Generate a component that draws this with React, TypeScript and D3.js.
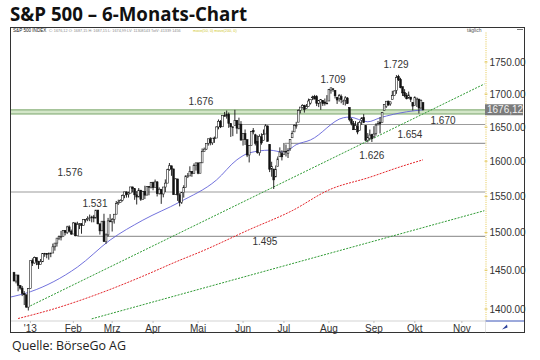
import React from "react";
import * as d3 from "d3";

type Bar = [number, number, number, number]; // open, high, low, close

const dec12: Bar[] = [
  [1446.8, 1447.8, 1435.8, 1435.8], [1435.8, 1443.7, 1432.8, 1443.7], [1443.7, 1443.7, 1422.6, 1430.2],
  [1430.2, 1430.2, 1424.7, 1426.7], [1426.7, 1429.4, 1416.4, 1419.8], [1419.8, 1422.8, 1405.0, 1418.1],
  [1418.1, 1418.1, 1401.6, 1402.4], [1402.4, 1426.7, 1398.1, 1426.2],
];
const jan13: Bar[] = [
  [1426.2, 1462.4, 1426.2, 1462.4], [1462.4, 1465.5, 1455.5, 1459.4], [1459.4, 1467.9, 1458.6, 1466.5],
  [1466.5, 1466.5, 1456.6, 1461.9], [1461.9, 1461.9, 1451.6, 1457.2], [1457.2, 1464.7, 1457.2, 1461.0],
  [1461.0, 1472.3, 1461.0, 1472.1], [1472.1, 1472.8, 1467.6, 1472.1], [1472.1, 1472.1, 1465.7, 1470.7],
  [1470.7, 1473.3, 1463.8, 1472.3], [1472.3, 1473.0, 1467.1, 1472.6], [1472.6, 1485.2, 1472.6, 1480.9],
  [1480.9, 1485.2, 1475.8, 1485.9], [1485.9, 1492.6, 1481.2, 1492.6], [1492.6, 1496.1, 1489.9, 1494.8],
  [1494.8, 1502.3, 1489.5, 1494.8], [1494.8, 1503.3, 1494.8, 1503.0], [1503.0, 1503.2, 1496.3, 1500.2],
  [1500.2, 1509.3, 1498.1, 1507.8], [1507.8, 1509.9, 1500.1, 1502.0], [1502.0, 1504.2, 1496.8, 1498.1],
];
const feb13: Bar[] = [
  [1498.1, 1514.4, 1498.1, 1513.2], [1513.2, 1513.2, 1495.0, 1495.7], [1495.7, 1514.9, 1495.7, 1511.3],
  [1511.3, 1513.0, 1504.8, 1512.1], [1512.1, 1512.9, 1498.5, 1509.4], [1509.4, 1518.3, 1509.4, 1517.9],
  [1517.9, 1518.3, 1513.6, 1518.0], [1518.0, 1522.3, 1515.6, 1519.4], [1519.4, 1524.7, 1515.6, 1520.3],
  [1520.3, 1523.1, 1514.0, 1521.4], [1521.4, 1524.2, 1514.1, 1519.8], [1519.8, 1530.9, 1519.8, 1530.9],
  [1530.9, 1530.9, 1511.4, 1512.0], [1512.0, 1512.0, 1497.3, 1502.4], [1502.4, 1515.6, 1502.4, 1515.6],
  [1515.6, 1525.8, 1487.9, 1487.9], [1487.9, 1498.9, 1485.0, 1496.9], [1496.9, 1520.1, 1494.9, 1516.0],
  [1516.0, 1525.3, 1514.5, 1514.7],
];
const mar13: Bar[] = [
  [1514.7, 1520.0, 1501.5, 1518.2], [1518.2, 1525.3, 1512.3, 1525.2], [1525.2, 1543.5, 1525.2, 1539.8],
  [1539.8, 1545.3, 1538.1, 1541.5], [1541.5, 1545.8, 1541.5, 1544.3], [1544.3, 1552.5, 1542.9, 1551.2],
  [1551.2, 1556.3, 1547.4, 1556.2], [1556.2, 1556.8, 1548.2, 1552.5], [1552.5, 1556.4, 1548.3, 1554.5],
  [1554.5, 1563.3, 1554.5, 1563.2], [1563.2, 1563.6, 1555.7, 1560.7], [1560.7, 1560.7, 1545.1, 1552.1],
  [1552.1, 1557.3, 1538.6, 1549.0], [1549.0, 1561.6, 1549.0, 1558.7], [1558.7, 1558.7, 1543.6, 1545.8],
  [1545.8, 1557.7, 1545.8, 1556.9], [1556.9, 1564.9, 1546.2, 1551.7], [1551.7, 1564.0, 1551.7, 1563.8],
  [1563.8, 1564.1, 1551.5, 1562.9], [1562.9, 1570.3, 1561.1, 1569.2],
];
const apr13: Bar[] = [
  [1569.2, 1570.6, 1558.5, 1562.2], [1562.2, 1573.7, 1562.2, 1570.3], [1570.3, 1571.5, 1549.8, 1553.7],
  [1553.7, 1562.6, 1552.5, 1560.0], [1560.0, 1560.0, 1539.5, 1553.3], [1553.3, 1563.1, 1548.6, 1563.1],
  [1563.1, 1573.9, 1556.0, 1568.6], [1568.6, 1589.1, 1568.6, 1587.7], [1587.7, 1597.4, 1586.2, 1593.4],
  [1593.4, 1593.4, 1579.0, 1588.9], [1588.9, 1588.9, 1552.3, 1552.4], [1552.4, 1575.4, 1552.4, 1574.6],
  [1574.6, 1574.6, 1543.7, 1552.0], [1552.0, 1554.4, 1536.0, 1541.6], [1541.6, 1555.9, 1539.4, 1555.3],
  [1555.3, 1565.6, 1548.2, 1562.5], [1562.5, 1579.6, 1562.5, 1578.8], [1578.8, 1583.0, 1575.8, 1578.8],
  [1578.8, 1592.6, 1578.8, 1585.2], [1585.2, 1585.8, 1577.6, 1582.2], [1582.2, 1596.7, 1582.2, 1593.6],
  [1593.6, 1597.6, 1586.5, 1597.6],
];
const may13: Bar[] = [
  [1597.6, 1597.6, 1581.3, 1582.7], [1582.7, 1598.6, 1582.8, 1597.6], [1597.6, 1618.5, 1597.6, 1614.4],
  [1614.4, 1619.8, 1614.2, 1617.5], [1617.5, 1626.0, 1616.6, 1626.0], [1626.0, 1632.8, 1622.7, 1632.7],
  [1632.7, 1635.0, 1623.1, 1626.7], [1626.7, 1633.7, 1623.7, 1633.7], [1633.7, 1636.0, 1626.7, 1633.8],
  [1633.8, 1651.1, 1633.8, 1650.3], [1650.3, 1661.5, 1646.7, 1658.8], [1658.8, 1660.5, 1648.6, 1650.5],
  [1650.5, 1667.5, 1650.5, 1667.5], [1667.5, 1672.8, 1666.1, 1666.3], [1666.3, 1674.9, 1662.7, 1669.2],
  [1669.4, 1672.0, 1648.9, 1655.4], [1655.4, 1655.4, 1635.5, 1650.5], [1650.5, 1650.8, 1636.6, 1649.6],
  [1652.6, 1676.0, 1652.6, 1660.1], [1660.1, 1660.1, 1640.1, 1648.4], [1648.4, 1664.2, 1646.7, 1654.4],
  [1654.4, 1659.0, 1630.7, 1630.7],
];
const jun13: Bar[] = [
  [1631.7, 1640.4, 1622.7, 1640.4], [1640.7, 1646.5, 1623.6, 1631.4], [1631.4, 1631.4, 1605.9, 1608.9],
  [1609.0, 1622.6, 1598.2, 1622.6], [1622.6, 1644.4, 1622.6, 1643.4], [1644.7, 1648.7, 1639.3, 1642.8],
  [1638.6, 1640.1, 1622.9, 1626.1], [1629.0, 1637.7, 1610.9, 1612.5], [1612.2, 1639.3, 1608.1, 1636.4],
  [1635.5, 1640.8, 1624.0, 1626.7], [1630.6, 1646.5, 1630.3, 1639.0], [1639.8, 1654.2, 1639.8, 1651.8],
  [1651.8, 1652.4, 1628.9, 1628.9], [1624.6, 1624.6, 1584.3, 1588.2], [1588.6, 1599.2, 1577.7, 1592.4],
  [1588.8, 1588.8, 1560.3, 1573.1], [1577.5, 1593.8, 1577.1, 1588.0], [1592.3, 1606.8, 1592.3, 1603.3],
  [1606.4, 1620.1, 1606.4, 1613.2], [1611.1, 1615.9, 1601.1, 1606.3],
];
const jul13: Bar[] = [
  [1609.8, 1626.6, 1609.8, 1614.1], [1614.3, 1624.3, 1606.8, 1614.1], [1611.5, 1618.9, 1604.6, 1615.4],
  [1618.7, 1632.1, 1615.0, 1631.9], [1634.2, 1644.7, 1634.2, 1640.5], [1642.9, 1654.2, 1642.9, 1652.3],
  [1651.6, 1657.9, 1647.7, 1652.6], [1657.4, 1676.6, 1657.4, 1675.0], [1675.3, 1680.2, 1670.6, 1680.2],
  [1679.6, 1684.5, 1677.9, 1682.5], [1682.7, 1683.7, 1671.8, 1676.3], [1677.9, 1684.8, 1677.9, 1680.9],
  [1681.1, 1693.1, 1681.1, 1689.4], [1686.2, 1692.1, 1684.1, 1692.1], [1694.4, 1697.6, 1690.7, 1695.5],
  [1696.1, 1698.8, 1692.1, 1692.4], [1696.1, 1698.4, 1681.7, 1685.9], [1685.2, 1690.9, 1680.1, 1690.3],
  [1687.3, 1691.9, 1676.0, 1691.7], [1690.3, 1690.9, 1681.9, 1685.3], [1687.9, 1693.2, 1682.4, 1686.0],
  [1686.0, 1698.4, 1684.9, 1685.7],
];
const aug13: Bar[] = [
  [1689.4, 1707.9, 1689.4, 1706.9], [1706.1, 1709.7, 1700.7, 1709.7], [1708.0, 1709.2, 1703.6, 1707.1],
  [1705.8, 1705.8, 1693.3, 1697.4], [1695.3, 1695.3, 1684.9, 1690.9], [1693.4, 1700.2, 1688.4, 1697.5],
  [1696.1, 1699.4, 1686.0, 1691.4], [1688.4, 1691.5, 1683.4, 1689.5], [1690.7, 1696.8, 1682.6, 1694.2],
  [1693.9, 1695.5, 1684.8, 1685.4], [1679.6, 1679.6, 1658.6, 1661.3], [1661.2, 1663.6, 1652.6, 1655.8],
  [1655.3, 1659.2, 1646.1, 1646.1], [1646.8, 1658.9, 1646.1, 1652.4], [1650.7, 1657.0, 1639.4, 1642.8],
  [1645.0, 1659.6, 1645.0, 1657.0], [1659.9, 1664.9, 1653.4, 1663.5], [1664.3, 1669.5, 1656.0, 1656.8],
  [1652.5, 1652.5, 1629.1, 1630.5], [1630.3, 1641.2, 1627.5, 1635.0], [1633.5, 1646.4, 1630.9, 1638.2],
  [1638.9, 1640.1, 1628.0, 1633.0],
];
const sep13: Bar[] = [
  [1636.0, 1651.4, 1633.4, 1639.8], [1640.7, 1655.7, 1637.4, 1653.1], [1653.3, 1659.2, 1653.1, 1655.1],
  [1657.4, 1664.8, 1640.6, 1655.2], [1656.9, 1672.4, 1656.9, 1671.7], [1675.1, 1684.1, 1675.1, 1684.0],
  [1681.0, 1689.1, 1678.7, 1689.1], [1689.2, 1690.0, 1682.0, 1683.4], [1685.0, 1688.7, 1682.2, 1688.0],
  [1691.7, 1705.0, 1691.7, 1697.6], [1697.7, 1705.5, 1697.7, 1704.8], [1705.7, 1729.4, 1700.4, 1725.5],
  [1727.3, 1729.9, 1720.2, 1722.3], [1722.4, 1725.2, 1708.9, 1709.9], [1711.4, 1711.4, 1697.1, 1701.8],
  [1702.6, 1707.6, 1694.9, 1697.4], [1698.0, 1701.7, 1691.9, 1692.8], [1694.1, 1703.9, 1693.1, 1698.7],
  [1695.5, 1695.5, 1688.0, 1691.8], [1687.3, 1687.3, 1675.0, 1681.6],
];
const oct13: Bar[] = [
  [1682.4, 1696.6, 1682.1, 1695.0], [1691.9, 1693.9, 1680.3, 1693.9], [1692.4, 1692.4, 1670.4, 1678.7],
  [1678.8, 1691.9, 1677.3, 1690.5], [1687.2, 1687.2, 1675.0, 1676.1],
];

// month labels and the trading-day index of each month's first bar
const monthLabels = ["'13", "Feb", "Mrz", "Apr", "Mai", "Jun", "Jul", "Aug", "Sep", "Okt", "Nov"];
const monthStartIdx = [8, 29, 48, 68, 90, 112, 132, 154, 176, 196, 219];

const yTicks = [1400, 1450, 1500, 1550, 1600, 1650, 1700, 1750];

// moving averages: [trading-day index, value]
const ma50: [number, number][] = [
  [-2, 1415], [8, 1422], [31, 1454], [47, 1490], [63, 1517], [81, 1542], [99, 1573], [109, 1602],
  [115, 1612], [125, 1616], [132, 1613], [138, 1624], [145, 1631], [161, 1664], [164, 1665],
  [173, 1658], [179, 1664], [192, 1673], [200, 1676],
];
const ma200: [number, number][] = [
  [2, 1388], [18, 1399], [42, 1420], [62, 1441], [81, 1463], [91, 1474], [115, 1504], [136, 1530],
  [154, 1559], [174, 1577], [189, 1592], [200, 1602],
];

// trend lines: two anchor points each
const trendUpper: [number, number][] = [[8, 1404], [230, 1715.6]];
const trendLower: [number, number][] = [[38, 1387.6], [230, 1530]];

// horizontal levels
const bandLevels = [1670, 1676];
const levelPrices = [1654, 1626, 1556, 1495];
const levelFromIdx = [110.5, 132.5, -2, 31];

// annotations: text, index, price of label baseline
const noteTexts = ["1.676", "1.709", "1.729", "1.670", "1.654", "1.626", "1.576", "1.531", "1.495"];
const noteIdx = [91.4, 156, 186.8, 209.8, 193.6, 175, 27.4, 39.6, 122.7];
const notePrice = [1683.3, 1717.1, 1740.5, 1654.7, 1633.9, 1603.2, 1578.7, 1535, 1483.4];

const lastClose = 1676.12;

const bars: Bar[] = [
  ...dec12, ...jan13, ...feb13, ...mar13, ...apr13, ...may13, ...jun13, ...jul13, ...aug13, ...sep13, ...oct13,
];

const W = 540;
const H = 360;
const frameL = 10.5, frameR = 524.5, frameT = 27.5, frameB = 332.5;
const plotR = 485.5, plotB = 321;

export default function App() {
  const x = d3.scaleLinear().domain([0, 230]).range([14, 484.35]);
  const y = d3.scaleLog().domain([1400, 1750]).range([309, 62]);

  const maLine = d3
    .line<[number, number]>()
    .x((d) => x(d[0]))
    .y((d) => y(d[1]))
    .curve(d3.curveMonotoneX);
  const straight = d3
    .line<[number, number]>()
    .x((d) => x(d[0]))
    .y((d) => y(d[1]));

  const font = "'Liberation Sans', Arial, sans-serif";
  const fmtAxis = (v: number) => v.toFixed(2);
  const fmtComma = (v: number) => v.toFixed(2).replace(".", ",");

  return (
    <svg
      width={W}
      height={H}
      style={{ position: "fixed", left: 0, top: 0, background: "#fff" }}
      fontFamily={font}
    >
      <defs>
        <clipPath id="plotClip">
          <rect x={frameL + 0.5} y={frameT + 0.5} width={plotR - frameL - 0.5} height={plotB - frameT - 0.5} />
        </clipPath>
      </defs>

      {/* title */}
      <text x={10} y={21} fontFamily="'Open Sans', sans-serif" fontWeight={700} fontSize={20} fill="#111"
        textLength={237} lengthAdjust="spacingAndGlyphs">
        S&amp;P 500 – 6-Monats-Chart
      </text>

      {/* source */}
      <text x={12} y={350} fontFamily="'Open Sans', sans-serif" fontSize={13.5} fill="#222"
        textLength={114} lengthAdjust="spacingAndGlyphs">
        Quelle: BörseGo AG
      </text>

      <g clipPath="url(#plotClip)">
        {/* green support band */}
        <rect x={frameL} y={y(bandLevels[1])} width={plotR - frameL} height={y(bandLevels[0]) - y(bandLevels[1])}
          fill="#d3e6c8" />
        {bandLevels.map((p) => (
          <line key={p} x1={frameL} x2={plotR} y1={y(p)} y2={y(p)} stroke="#a6c49a" strokeWidth={1.8} />
        ))}

        {/* gray levels */}
        {levelPrices.map((p, i) => (
          <line key={p} x1={x(levelFromIdx[i])} x2={plotR} y1={y(p)} y2={y(p)} stroke="#9c9c9c" strokeWidth={1.1} />
        ))}

        {/* trend lines */}
        <path d={straight(trendUpper) || ""} fill="none" stroke="#2f9a34" strokeWidth={1} strokeDasharray="2,1.3" />
        <path d={straight(trendLower) || ""} fill="none" stroke="#2f9a34" strokeWidth={1} strokeDasharray="2,1.3" />

        {/* moving averages */}
        <path d={maLine(ma200) || ""} fill="none" stroke="#e3262b" strokeWidth={1} strokeDasharray="2,1.2" />
        <path d={maLine(ma50) || ""} fill="none" stroke="#6262d8" strokeWidth={0.9} />

        {/* candles */}
        {bars.map((b, i) => {
          const [o, h, l, c] = b;
          const cx = x(i);
          const up = c >= o;
          const top = y(Math.max(o, c));
          const bot = y(Math.min(o, c));
          return (
            <g key={i}>
              <line x1={cx} x2={cx} y1={y(h)} y2={y(l)} stroke="#111" strokeWidth={0.9} />
              <rect x={cx - 0.9} y={top} width={1.8} height={Math.max(0.7, bot - top)}
                fill={up ? "#fff" : "#111"} stroke="#111" strokeWidth={0.55} />
            </g>
          );
        })}
      </g>

      {/* annotations */}
      {noteTexts.map((t, i) => (
        <text key={t} x={x(noteIdx[i])} y={y(notePrice[i])} fontSize={10} textAnchor="middle" fill="#333">
          {t}
        </text>
      ))}

      {/* header line */}
      <text x={13} y={31.5} fontSize={4.6} fill="#222">
        S&amp;P 500 INDEX
      </text>
      <text x={49} y={31.5} fontSize={3.8} fill="#8a8a8a">
        C: 1676,12 O: 1687,15 H: 1687,15 L: 1674,99 LV: 11308143 TotV: 41339 1456
      </text>
      <text x={193} y={31.5} fontSize={3.8} fill="#d0c830">
        move(50, 0) move(200, 0)
      </text>
      <text x={467} y={31.5} fontSize={5} fill="#555">täglich</text>

      {/* right axis */}
      <line x1={486} x2={486} y1={frameT + 5} y2={plotB} stroke="#e2c23c" strokeWidth={0.9} strokeDasharray="1,1.2" />
      {yTicks.map((v) => (
        <g key={v}>
          <line x1={484.5} x2={487.5} y1={y(v)} y2={y(v)} stroke="#d9b82e" strokeWidth={0.8} />
          <text x={489.5} y={y(v)} dy="0.35em" fontSize={10} fill="#333">
            {fmtAxis(v)}
          </text>
        </g>
      ))}
      <rect x={485} y={y(lastClose) - 5.5} width={38} height={11} fill="#7b7b7b" />
      <text x={487} y={y(lastClose)} dy="0.35em" fontSize={10} fill="#f2f2f2">
        {fmtComma(lastClose)}
      </text>

      {/* date axis */}
      <line x1={frameL} x2={plotR} y1={plotB} y2={plotB} stroke="#c8c8c8" strokeWidth={0.8} />
      <line x1={plotR} x2={frameR} y1={plotB} y2={plotB} stroke="#3a55b8" strokeWidth={1} />
      {monthLabels.map((m, i) => (
        <g key={m}>
          <line x1={x(monthStartIdx[i])} x2={x(monthStartIdx[i])} y1={plotB} y2={plotB + 2} stroke="#aaa" strokeWidth={0.7} />
          <text x={x(monthStartIdx[i])} y={plotB + 7.5} dy="0.35em" fontSize={10} textAnchor="middle" fill="#333">
            {m}
          </text>
        </g>
      ))}
      <path d="M502,329.5 L507,324.5 L507.5,327.5 Z" fill="#2a3f9a" />

      {/* frame */}
      <rect x={frameL} y={frameT} width={frameR - frameL} height={frameB - frameT} fill="none" stroke="#333" strokeWidth={1} />
      <line x1={plotR} x2={plotR} y1={plotB} y2={frameB} stroke="#ccc" strokeWidth={0.6} />
      <line x1={517} x2={523} y1={29.5} y2={29.5} stroke="#555" strokeWidth={0.8} />
    </svg>
  );
}
